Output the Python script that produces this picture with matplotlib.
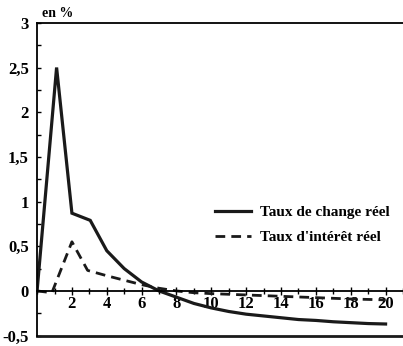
import matplotlib
matplotlib.use('Agg')
import matplotlib.pyplot as plt
from matplotlib.ticker import MultipleLocator, FixedLocator

# ---------------------------------------------------------------
# Data
# ---------------------------------------------------------------
change_x = [0, 1.12, 2, 3.05, 4, 5, 6, 7, 8, 9, 10, 11, 12, 13, 14, 15, 16, 17, 18, 19, 20]
change_y = [0, 2.5, 0.87, 0.79, 0.45, 0.25, 0.10, 0.0, -0.07, -0.14, -0.19, -0.23, -0.26,
            -0.28, -0.30, -0.32, -0.33, -0.345, -0.355, -0.365, -0.37]

interet_x = [0, 0.85, 2, 2.9, 4, 5, 6, 7, 8, 9, 10, 12, 14, 16, 18, 20]
interet_y = [0, -0.02, 0.55, 0.23, 0.17, 0.12, 0.07, 0.03, 0.0, -0.02, -0.03,
             -0.045, -0.06, -0.075, -0.09, -0.10]

y_ticks = [-0.5, 0, 0.5, 1, 1.5, 2, 2.5, 3]
y_labels = ['-0,5', '0', '0,5', '1', '1,5', '2', '2,5', '3']
x_ticks = [2, 4, 6, 8, 10, 12, 14, 16, 18, 20]

# ---------------------------------------------------------------
# Figure
# ---------------------------------------------------------------
plt.rcParams['font.family'] = ['Liberation Serif', 'DejaVu Serif']
plt.rcParams['font.weight'] = 'bold'

fig = plt.figure(figsize=(4.03, 3.46), dpi=100)
ax = fig.add_axes([0.092, 0.03, 0.908, 0.904])

ax.plot(change_x, change_y, color='#1a1a1a', lw=2.3, label='Taux de change réel',
        solid_joinstyle='miter')
ax.plot(interet_x, interet_y, color='#1a1a1a', lw=2.0, linestyle=(0, (3.5, 2.2)),
        label="Taux d'intérêt réel")

ax.set_xlim(0, 21)
ax.set_ylim(-0.5, 3)

# frame: left, top, bottom line at -0.5; x-axis with ticks at zero
ax.spines['right'].set_visible(False)
ax.spines['bottom'].set_position(('data', 0))
for s in ['left', 'top', 'bottom']:
    ax.spines[s].set_linewidth(1.3)
ax.axhline(-0.5, color='#1a1a1a', lw=2.0, clip_on=False)

ax.yaxis.set_major_locator(FixedLocator(y_ticks))
ax.set_yticklabels(y_labels, fontsize=12, fontweight='bold')
ax.yaxis.set_minor_locator(MultipleLocator(0.25))
ax.tick_params(axis='y', which='both', direction='in', length=3, width=1, pad=6)
ax.get_yticklabels()[0].set_va('center_baseline')

ax.xaxis.set_major_locator(FixedLocator(x_ticks))
ax.set_xticklabels([str(t) for t in x_ticks], fontsize=12, fontweight='bold')
ax.xaxis.set_minor_locator(MultipleLocator(1))
ax.tick_params(axis='x', which='major', direction='inout', length=6, width=1, pad=1)
ax.tick_params(axis='x', which='minor', direction='inout', length=4, width=1)

ax.text(0.3, 3.03, 'en %', fontsize=10, fontweight='bold', va='bottom', ha='left')

leg = ax.legend(loc='upper left', bbox_to_anchor=(0.45, 0.46), frameon=False,
                fontsize=11, handlelength=2.3, handletextpad=0.6, labelspacing=0.75)

fig.savefig('out.png', dpi=100)
